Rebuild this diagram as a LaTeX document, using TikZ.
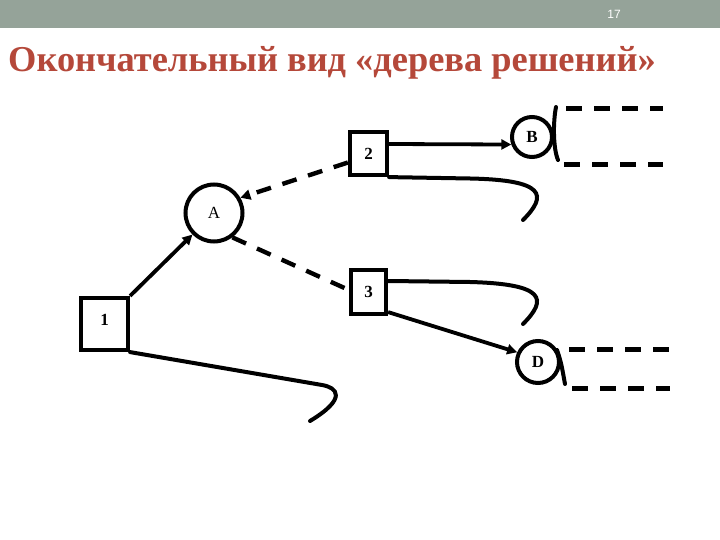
\documentclass[tikz,border=0pt]{standalone}
\usepackage{fontspec}
\setmainfont{Liberation Serif}
\setsansfont{Liberation Sans}
\usetikzlibrary{arrows.meta,calc}
\definecolor{barcol}{RGB}{149,163,153}
\definecolor{titlecol}{RGB}{181,72,58}
\begin{document}
\begin{tikzpicture}[x=1pt,y=1pt,
  boxnode/.style={draw,line width=4.2pt,inner sep=0pt,font=\fontsize{17}{17}\selectfont\bfseries},
  circnode/.style={draw,circle,line width=4pt,inner sep=0pt,font=\fontsize{17}{17}\selectfont},
  tipA/.style={-{Triangle[length=10pt,width=10pt]}},
  solidarrow/.style={line width=3.8pt,tipA},
  dashline/.style={line width=4.4pt,dash pattern=on 15pt off 12pt},
  hook/.style={line width=4pt,line cap=round},
  outdash/.style={line width=5pt,dash pattern=on 16pt off 12pt}]
\useasboundingbox (0,0) rectangle (720,-540);
\fill[white] (0,0) rectangle (720,-540);
\fill[barcol] (0,0) rectangle (720,-28);
\node[text=white,font=\sffamily\fontsize{12}{12}\selectfont] (pnum) at (614,-14) {17};
\node[anchor=base west,inner sep=0pt,text=titlecol,font=\fontsize{36.4}{36.4}\selectfont\bfseries] (title) at (8,-72) {Окончательный вид «дерева решений»};

% nodes
\node[boxnode,minimum width=47pt,minimum height=52pt,text depth=8pt] (b1) at (104.5,-324) {1};
\node[boxnode,minimum width=37pt,minimum height=43pt] (b2) at (368.5,-153.5) {2};
\node[boxnode,minimum width=35pt,minimum height=44pt] (b3) at (368.5,-292) {3};
\node[circnode,minimum size=57pt] (A) at (214,-213) {A};
\node[circnode,minimum size=40pt,font=\fontsize{17}{17}\selectfont\bfseries] (B) at (532,-137) {B};
\node[circnode,minimum size=42pt,font=\fontsize{17}{17}\selectfont\bfseries] (D) at (538,-362) {D};

% connectors
\draw[solidarrow] (b1.north east) -- (A.225);
\draw[dashline,tipA] ($(b2.west)+(0,-9)$) -- (A.30);
\draw[dashline] (A.-53) -- ($(b3.west)+(0,2)$);
\draw[solidarrow] ($(b2.east)+(0,9.5)$) -- (B.200);
\draw[solidarrow] ($(b3.south east)+(0,4)$) -- (D.155);

% hooks
\coordinate (h1) at (310,-421);
\coordinate (h2) at (523,-220);
\coordinate (h3) at (523,-324);
\draw[hook] (b1.south east) -- (322,-385) .. controls (337,-387.5) and (348,-398) .. (h1);
\draw[hook] (b2.south east) -- (470,-178.5) .. controls (545,-180) and (548,-195) .. (h2);
\draw[hook] ($(b3.east)+(0,11)$) -- (470,-282) .. controls (545,-284) and (548,-299) .. (h3);

% ticks at B and D
\draw[hook] (556,-107) .. controls (553,-122) and (553,-148) .. (558,-160);
\draw[hook] (557,-350) .. controls (561,-362) .. (565,-384);

% outgoing dashed lines
\coordinate (bt1) at (566,-109); \coordinate (bt2) at (663,-109);
\coordinate (bb1) at (564,-165); \coordinate (bb2) at (663,-165);
\coordinate (dt1) at (569,-349); \coordinate (dt2) at (669,-349);
\coordinate (db1) at (572,-388); \coordinate (db2) at (670,-388);
\draw[outdash] (bt1) -- (bt2);
\draw[outdash] (bb1) -- (bb2);
\draw[outdash] (dt1) -- (dt2);
\draw[outdash] (db1) -- (db2);
\end{tikzpicture}
\end{document}
